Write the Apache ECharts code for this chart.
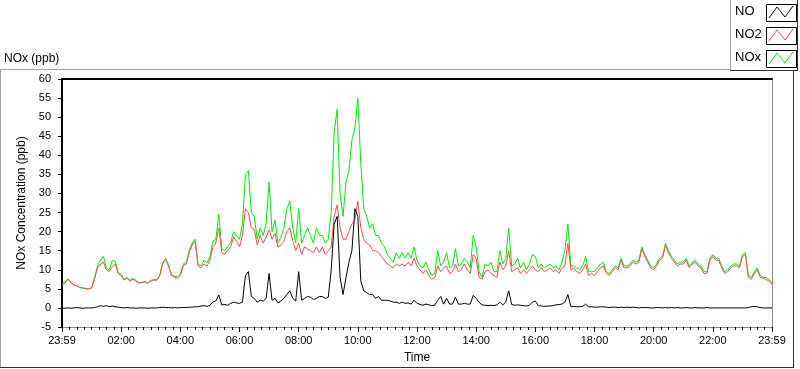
<!DOCTYPE html>
<html>
<head>
<meta charset="utf-8">
<title>NOx (ppb)</title>
<script src="https://cdn.jsdelivr.net/npm/echarts@6/dist/echarts.min.js"></script>
<style>
html, body { margin: 0; padding: 0; background: #fff; }
#chart { width: 800px; height: 369px; }
</style>
</head>
<body>
<div id="chart"></div>
<script>
// one reading every 6 minutes, from 23:59 to 23:59 next day
var stepMin = 6;
var timeLabels = ['23:59', '02:00', '04:00', '06:00', '08:00', '10:00', '12:00',
    '14:00', '16:00', '18:00', '20:00', '22:00', '23:59'];

var noData = [
    0, -0.1, 0, -0.1, 0, 0.1, 0, -0.1, 0, 0,
    0, 0.1, 0.3, 0.6, 0.4, 0.6, 0.3, 0.5, 0.3, 0.2,
    0.1, 0, 0.1, 0, 0, -0.1, 0, 0, 0, -0.1,
    0, 0, 0, 0.1, 0.2, 0.1, 0.1, 0, 0.1, 0,
    0.1, 0.1, 0.1, 0.2, 0.2, 0.3, 0.3, 0.5, 0.6, 0.4,
    0.7, 1.6, 1.8, 3.4, 0.8, 0.9, 0.7, 1.2, 1.5, 1.3,
    1.2, 1.5, 8.5, 9.5, 3, 2.5, 1.5, 2, 1.8, 2.5,
    9, 2, 2.5, 1.3, 1.8, 2.5, 3.5, 4.5, 2.5, 1.8,
    9.5, 2, 2.5, 3, 2.8, 2.2, 2.5, 3, 3, 2.5,
    2.8, 10, 22, 24, 8, 3.5, 8, 12, 15, 26,
    24, 7, 4.5, 4, 3.5, 3.5, 2.5, 3, 2, 2,
    2, 1.8, 1.5, 1.5, 1.2, 1.5, 1.2, 1.3, 1.0, 2.0,
    1.2, 0.9, 0.7, 1, 0.8, 0.6, 0.7, 2, 3, 1,
    2.5, 1, 1, 2.8, 1, 1, 1.2, 1, 1, 3.3,
    2.5, 1.5, 0.8, 0.7, 0.6, 0.7, 0.6, 0.8, 1.5, 0.8,
    1.5, 4.5, 0.9, 0.7, 0.8, 0.7, 0.6, 0.5, 0.7, 1.5,
    1.8, 0.6, 0.5, 0.4, 0.5, 0.5, 0.6, 0.8, 0.9, 1,
    1.5, 3.5, 0.4, 0.4, 0.3, 0.3, 0.4, 1, 0.3, 0.3,
    0.2, 0.2, 0.3, 0.3, 0.2, 0.1, 0.2, 0.2, 0.1, 0.2,
    0.1, 0.2, 0.1, 0.2, 0.1, 0, 0.1, 0.1, 0.1, 0,
    0, 0.1, 0.1, 0, 0.1, 0, 0.1, 0, 0.1, 0,
    0, 0.1, 0, 0, 0.1, 0, 0, 0, 0.1, 0,
    0, 0, 0, 0, 0, 0, 0, 0, 0, 0,
    0, 0, 0.1, 0.3, 0.4, 0.3, 0.1, 0, 0, 0,
    0
];

var no2Data = [
    6.0, 6.5, 7.5, 6.6, 6.0, 5.8, 5.4, 5.3, 5.1, 5.0,
    5.2, 7.5, 10.5, 11.5, 12.0, 10.0, 9.5, 10.8, 11.5, 9.0,
    8.5, 7.3, 7.8, 7.0, 7.5, 7.0, 6.5, 6.6, 6.8, 6.5,
    7.0, 7.3, 7.2, 8.3, 11.5, 12.8, 11.0, 8.5, 8.0, 7.8,
    8.5, 11.0, 11.5, 14.5, 16.5, 17.5, 11.0, 10.5, 11.5, 11.0,
    12.5, 16.0, 17.0, 21.0, 14.5, 14.0, 15.0, 16.0, 18.5, 17.5,
    16.0, 19, 26, 25, 21, 20.5, 16.5, 19, 17, 18.5,
    20.5, 18, 19.5, 16, 16.5, 17.5, 20, 21, 17.5, 15,
    17, 14, 16, 15.5, 15, 14.5, 16, 14.5, 16, 14,
    15, 16, 24, 27, 21, 18, 18, 20, 22, 23,
    28, 21, 18, 17, 16.5, 15, 15, 14.5, 13.5, 12.5,
    11.5, 11, 10.5, 11.5, 11, 11.5, 11, 12, 11, 13,
    11, 10, 9, 10, 8.5, 7.5, 8, 11, 9.5, 10.5,
    11, 9, 9.5, 11.5, 9.5, 10, 11.5, 10, 9, 14,
    13, 8, 7.5, 9.5, 10, 9, 8.5, 8, 12, 10,
    11, 15, 9.5, 10, 10.5, 9, 10, 9, 10, 11,
    10, 9.5, 10.5, 9.5, 10, 10.5, 9.5, 10, 9, 10.5,
    11, 17, 10, 10.5, 9.5, 9, 10, 11.5, 8.5, 9,
    8.5, 9.5, 10.5, 11, 9, 8.5, 9.5, 10.5, 10, 12.5,
    10.5, 10.5, 11, 12, 11.5, 12, 15.5, 13.5, 12, 10.5,
    10, 11, 12.5, 13, 16.5, 14.5, 13, 12, 11, 11.5,
    11.5, 12.5, 10.5, 11.5, 12, 11, 10.5, 9, 9, 12.5,
    13.5, 12.5, 12.5, 10.5, 9, 9.5, 10.5, 11, 11, 10.5,
    13.5, 14, 8, 7.5, 9, 10, 8, 7.8, 7.5, 7,
    6.2
];

var noxData = [
    6.2, 6.8, 7.7, 6.8, 6.0, 5.8, 5.3, 5.2, 5.0, 4.9,
    5.3, 8.0, 11.0, 12.5, 13.5, 10.5, 10.0, 12.5, 12.2, 9.3,
    8.8, 7.5, 8.0, 7.2, 7.7, 7.2, 6.6, 6.7, 6.9, 6.6,
    7.2, 7.5, 7.4, 8.5, 11.7, 13.0, 11.3, 8.8, 8.3, 8.2,
    8.8, 11.5, 12.0, 15.0, 17.0, 18.0, 11.5, 11.0, 12.5, 11.8,
    13.3, 17.5, 18.0, 24.5, 15.5, 15.0, 16.0, 17.0, 20.0, 19.0,
    18, 22, 35, 36, 25, 24, 18, 21, 19, 22,
    33, 20, 23, 17, 18.5, 21, 26, 28, 21, 17,
    26, 17, 19, 21, 19, 17, 21, 19, 19, 17,
    18, 25, 46, 52, 30, 24, 33, 36, 44, 47,
    55, 38, 26, 24, 21, 22, 19, 19, 17, 16,
    14, 13, 12, 14.5, 13, 14.5, 13, 14.5, 13, 16,
    12.5, 11, 10.5, 12, 10, 8.5, 9, 15, 11, 12,
    14.5, 10.5, 11, 15.5, 11, 11.5, 13, 12, 10.5, 19,
    16, 9.5, 8, 11.5, 11, 12, 9.5, 9.5, 15, 11.5,
    13, 21, 11, 11.5, 13, 10.5, 12, 10, 11.5, 14,
    13.5, 10.5, 11.5, 10.5, 11, 11.5, 10.5, 11, 10, 12,
    15, 22, 11, 11, 10.5, 10, 11, 13.5, 9.5, 9.5,
    9.5, 10.5, 11.5, 12, 9.5, 9, 10, 11, 10.5, 13,
    11, 11, 11.5, 12.5, 12, 12.5, 16, 14, 12.5, 11,
    10.5, 11.5, 13, 13.5, 17, 15, 13.5, 12.5, 11.5, 12,
    12, 13, 11, 12, 12.5, 11.5, 11, 9.5, 9.5, 13,
    14, 13, 13, 11, 9.5, 10, 11, 11.5, 11.5, 11,
    14, 14.5, 8.5, 8, 9.5, 10.5, 8.5, 8, 8, 7.5,
    6.5
];

var legendNames = ['NO', 'NO2', 'NOx'];
var colNO = '#000000';
var colNO2 = '#ff4b4b';
var colNOx = '#00ee00';
var font = '"Liberation Sans", Arial, sans-serif';

function toPairs(arr) {
    var res = [];
    for (var i = 0, len = arr.length; i < len; i++) {
        res.push([i * stepMin, arr[i]]);
    }
    return res;
}

function legendItem(idx, color) {
    var y0 = 4 + idx * 23;
    return [
        {
            type: 'text', left: 735, top: y0 + 1,
            style: { text: legendNames[idx], font: '13px ' + font, fill: '#000' }
        },
        {
            type: 'rect', shape: { x: 766.5, y: y0 + 0.5, width: 30, height: 17 },
            style: { fill: '#fff', stroke: '#000', lineWidth: 1 }
        },
        {
            type: 'polyline',
            shape: { points: [[769, y0 + 14], [777, y0 + 3], [785, y0 + 13], [793, y0 + 2]] },
            style: { stroke: color, lineWidth: 1, fill: null }
        }
    ];
}

var myChart = echarts.init(document.getElementById('chart'));

var frames = [
    // panel
    { type: 'line', shape: { x1: 0, y1: 69.5, x2: 730, y2: 69.5 }, style: { stroke: '#a0a0a0', lineWidth: 1 } },
    { type: 'line', shape: { x1: 0.5, y1: 69.5, x2: 0.5, y2: 368 }, style: { stroke: '#a0a0a0', lineWidth: 1 } },
    { type: 'line', shape: { x1: 0, y1: 367.5, x2: 794, y2: 367.5 }, style: { stroke: '#303030', lineWidth: 1 } },
    { type: 'line', shape: { x1: 793.5, y1: 70, x2: 793.5, y2: 368 }, style: { stroke: '#303030', lineWidth: 1 } },
    // legend box
    { type: 'line', shape: { x1: 730.5, y1: 0, x2: 730.5, y2: 70 }, style: { stroke: '#a0a0a0', lineWidth: 1 } },
    { type: 'line', shape: { x1: 730, y1: 70.5, x2: 798, y2: 70.5 }, style: { stroke: '#303030', lineWidth: 1 } },
    { type: 'line', shape: { x1: 797.5, y1: 0, x2: 797.5, y2: 71 }, style: { stroke: '#303030', lineWidth: 1 } }
];
var graphics = frames
    .concat(legendItem(0, colNO))
    .concat(legendItem(1, colNO2))
    .concat(legendItem(2, colNOx));

var option = {
    backgroundColor: '#fff',
    animation: false,
    title: {
        text: 'NOx (ppb)',
        left: 4,
        top: 53,
        padding: 0,
        textStyle: { fontSize: 12, fontWeight: 'normal', color: '#000', fontFamily: font }
    },
    grid: { left: 62, right: 28, top: 79, bottom: 39 },
    xAxis: [
        {
            type: 'value',
            position: 'bottom',
            min: 0,
            max: 1440,
            interval: 120,
            name: 'Time',
            nameLocation: 'middle',
            nameGap: 25,
            nameTextStyle: { fontSize: 12, color: '#000', fontFamily: font },
            axisLine: { show: true, onZero: false, lineStyle: { color: '#8a8a8a', width: 1 } },
            axisTick: { show: true, length: 5, lineStyle: { color: '#000' } },
            minorTick: { show: true, splitNumber: 8, length: 3, lineStyle: { color: '#000' } },
            axisLabel: {
                margin: 8, fontSize: 11, color: '#000', fontFamily: font,
                formatter: function (v) { return timeLabels[Math.round(v / 120)]; }
            },
            splitLine: { show: false }
        },
        {
            type: 'value',
            position: 'top',
            min: 0,
            max: 1440,
            axisLine: { show: true, onZero: false, lineStyle: { color: '#000', width: 2 } },
            axisTick: { show: false },
            axisLabel: { show: false },
            splitLine: { show: false }
        }
    ],
    yAxis: [
        {
            type: 'value',
            position: 'left',
            min: -5,
            max: 60,
            interval: 5,
            name: 'NOx Concentration (ppb)',
            nameLocation: 'middle',
            nameGap: 24,
            nameRotate: 90,
            nameTextStyle: { fontSize: 12, color: '#000', fontFamily: font },
            axisLine: { show: true, onZero: false, lineStyle: { color: '#000', width: 2 } },
            axisTick: { show: true, length: 4, lineStyle: { color: '#000' } },
            axisLabel: { margin: 11, fontSize: 11, color: '#000', fontFamily: font },
            splitLine: { show: false }
        },
        {
            type: 'value',
            position: 'right',
            min: -5,
            max: 60,
            axisLine: { show: true, onZero: false, lineStyle: { color: '#8a8a8a', width: 1 } },
            axisTick: { show: false },
            axisLabel: { show: false },
            splitLine: { show: false }
        }
    ],
    series: [
        {
            name: 'NOx', type: 'line', data: toPairs(noxData),
            showSymbol: false, symbol: 'none',
            lineStyle: { color: colNOx, width: 1 }, itemStyle: { color: colNOx }
        },
        {
            name: 'NO2', type: 'line', data: toPairs(no2Data),
            showSymbol: false, symbol: 'none',
            lineStyle: { color: colNO2, width: 1 }, itemStyle: { color: colNO2 }
        },
        {
            name: 'NO', type: 'line', data: toPairs(noData),
            showSymbol: false, symbol: 'none',
            lineStyle: { color: colNO, width: 1 }, itemStyle: { color: colNO }
        }
    ],
    graphic: graphics
};
myChart.setOption(option);
</script>
</body>
</html>
